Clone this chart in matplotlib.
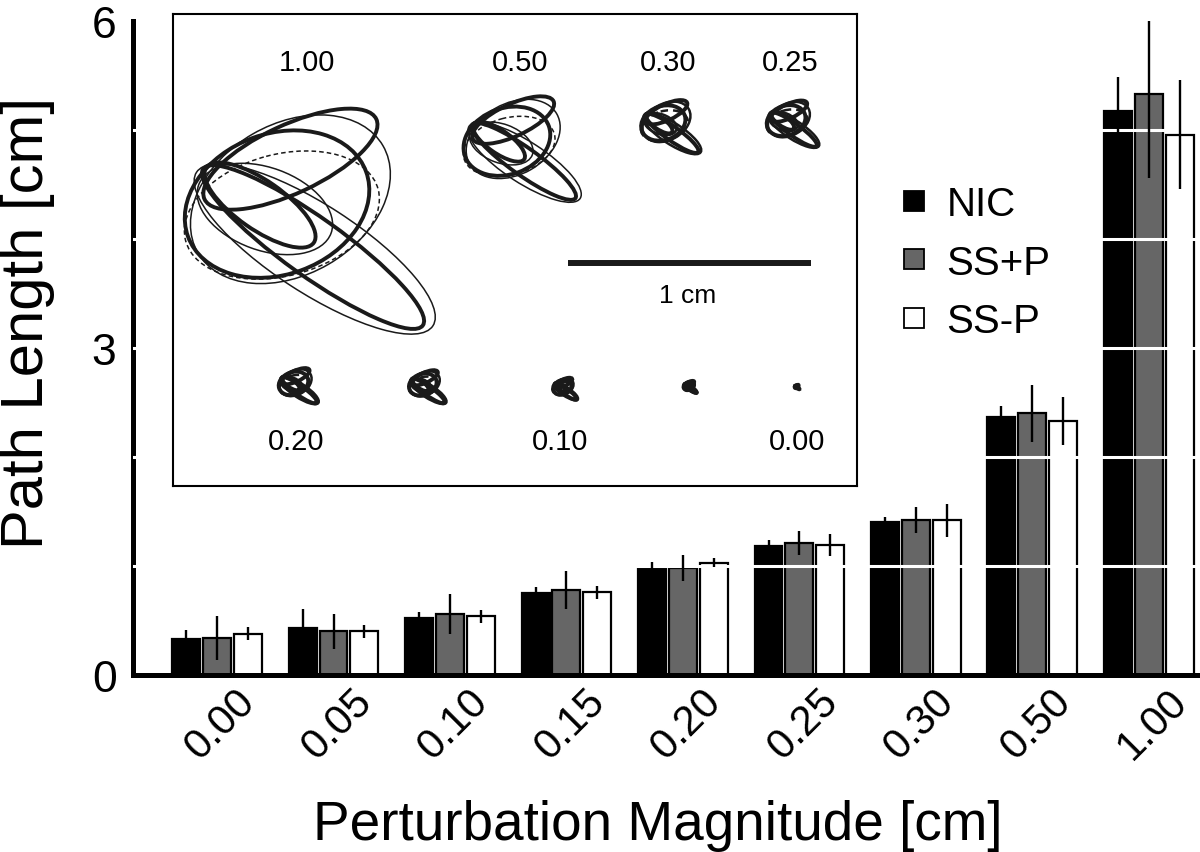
import numpy as np
import matplotlib
matplotlib.use('Agg')
import matplotlib.pyplot as plt
from matplotlib.patches import Ellipse
from matplotlib.lines import Line2D

plt.rcParams['font.family'] = ['Liberation Sans', 'DejaVu Sans']

# bar data (path length, cm)
magnitudes = ['0.00', '0.05', '0.10', '0.15', '0.20', '0.25', '0.30', '0.50', '1.00']
nic = [0.33, 0.43, 0.52, 0.75, 0.97, 1.18, 1.40, 2.37, 5.18]
nic_err = [0.08, 0.18, 0.06, 0.06, 0.07, 0.06, 0.05, 0.10, 0.31]
ssp = [0.34, 0.40, 0.56, 0.78, 0.98, 1.21, 1.42, 2.40, 5.33]
ssp_err = [0.20, 0.16, 0.18, 0.17, 0.12, 0.11, 0.12, 0.26, 0.77]
ssm = [0.38, 0.40, 0.54, 0.76, 1.03, 1.19, 1.42, 2.33, 4.96]
ssm_err = [0.06, 0.06, 0.06, 0.06, 0.04, 0.10, 0.15, 0.22, 0.50]
series_names = ['NIC', 'SS+P', 'SS-P']
series_colors = ['black', '#666666', 'white']

# inset: example trajectories, one per perturbation magnitude (cm)
traj_labels = ['1.00', '0.50', '0.30', '0.25', '0.20', '0.15', '0.10', '0.05', '0.00']
traj_scale = [1.0, 0.47, 0.24, 0.21, 0.16, 0.15, 0.10, 0.055, 0.02]
# loops of the 1.00 trace: dx, dy, half-width, half-height, angle (cm, deg)
loop_dx = [-0.115, 0.033, -0.185, -0.06, -0.06, -0.165, -0.095, 0.04]
loop_dy = [-0.07, 0.107, -0.066, -0.255, -0.09, -0.05, -0.025, 0.115]
loop_a = [0.39, 0.555, 0.27, 0.39, 0.44, 0.29, 0.41, 0.58]
loop_b = [0.29, 0.12, 0.10, 0.14, 0.31, 0.17, 0.25, 0.18]
loop_ang = [-20, 35.5, 35, -25, -30, 20, -15, 33]
loop_kind = ['thick', 'thick', 'thick', 'thick', 'thin', 'thin', 'dash', 'thin']

fig = plt.figure(figsize=(12, 8.53), dpi=100)
ax = fig.add_axes([0.111, 0.2075, 0.889, 0.7665])

x = np.arange(len(magnitudes))
w = 0.24
off = 0.265
for i, (vals, errs) in enumerate([(nic, nic_err), (ssp, ssp_err), (ssm, ssm_err)]):
    xs = x + (i - 1) * off
    ax.bar(xs, vals, width=w, color=series_colors[i], edgecolor='black',
           linewidth=1.6, zorder=2)
    ax.vlines(xs, np.array(vals) - np.array(errs), np.array(vals) + np.array(errs),
              color='black', linewidth=1.7, zorder=4)

# white grid lines cut through the bars
for yy in [1, 2, 3, 4, 5]:
    ax.axhline(yy, color='white', linewidth=2.2, zorder=3)

ax.set_xlim(-0.72, 8.44)
ax.set_ylim(0, 6)
ax.set_yticks([0, 3, 6])
ax.set_xticks(x + 0.03)
ax.set_xticklabels(magnitudes, rotation=45, ha='center', fontsize=30)
ax.tick_params(axis='y', labelsize=32, length=0, pad=12)
ax.tick_params(axis='x', length=0, pad=4)
for s in ['top', 'right']:
    ax.spines[s].set_visible(False)
for s in ['left', 'bottom']:
    ax.spines[s].set_linewidth(3.6)
ax.set_ylabel('Path Length [cm]', fontsize=43)
ax.yaxis.set_label_coords(-0.073, 0.54)
ax.set_xlabel('Perturbation Magnitude [cm]', fontsize=39.5)
ax.xaxis.set_label_coords(0.492, -0.19)

handles = [Line2D([], [], linestyle='none', marker='s', markersize=15,
                  markerfacecolor=c, markeredgecolor='black', markeredgewidth=1.3)
           for c in series_colors]
fig.legend(handles, series_names, loc='upper left', bbox_to_anchor=(0.715, 0.824),
           frameon=False, fontsize=29, handletextpad=0.3, labelspacing=0.5,
           handlelength=1.0)

# inset with the trajectories
ins = fig.add_axes([0.1442, 0.429, 0.57, 0.5533])
ins.set_xlim(0, 684 / 243)
ins.set_ylim(472 / 243, 0)
ins.set_xticks([])
ins.set_yticks([])
for s in ins.spines.values():
    s.set_linewidth(1.5)

traj_cx = [0.543, 1.428, 2.045, 2.547, 0.514, 1.045, 1.613, 2.128, 2.568]
traj_cy = [0.852, 0.556, 0.465, 0.453, 1.531, 1.535, 1.543, 1.535, 1.535]
styles = {'thick': dict(lw=2.8, ls='-'), 'thin': dict(lw=1.1, ls='-'),
          'dash': dict(lw=1.1, ls=(0, (3, 2)))}
for cx, cy, sc in zip(traj_cx, traj_cy, traj_scale):
    for dx, dy, a, b, ang, kind in zip(loop_dx, loop_dy, loop_a, loop_b, loop_ang, loop_kind):
        st = styles[kind]
        lw = st['lw'] if sc > 0.3 else max(st['lw'], 1.8)
        ins.add_patch(Ellipse((cx + dx * sc, cy + dy * sc), 2 * a * sc, 2 * b * sc,
                              angle=ang, fill=False, edgecolor='#1a1a1a',
                              linewidth=lw, linestyle=st['ls']))

label_pos = {'1.00': (0.551, 0.198), '0.50': (1.428, 0.198), '0.30': (2.037, 0.198),
             '0.25': (2.539, 0.198), '0.20': (0.506, 1.757), '0.10': (1.593, 1.757),
             '0.00': (2.568, 1.757)}
for lab, (lx, ly) in label_pos.items():
    ins.text(lx, ly, lab, fontsize=21, ha='center', va='center')

ins.plot([1.626, 2.626], [1.025, 1.025], color='#1a1a1a', linewidth=4.3,
         solid_capstyle='butt')
ins.text(2.119, 1.156, '1 cm', fontsize=19, ha='center', va='center')

fig.savefig('out.png', dpi=100)
